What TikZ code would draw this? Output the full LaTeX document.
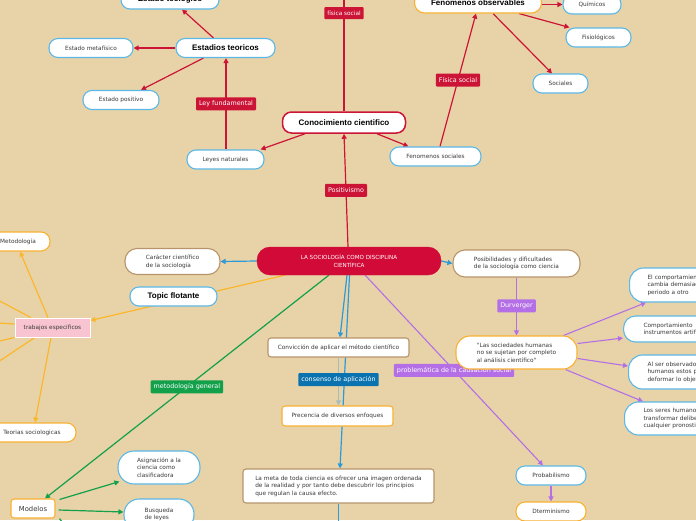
\documentclass[tikz,border=0pt]{standalone}
\usepackage{fontspec}
\setmainfont{Liberation Sans}
\newfontfamily\dv{DejaVu Sans}
\usetikzlibrary{arrows.meta,calc}
\definecolor{bgc}{HTML}{E8D3A8}
\definecolor{redc}{HTML}{CC1436}
\definecolor{mainred}{HTML}{D20A37}
\definecolor{bbc}{HTML}{5CB8E6}
\definecolor{blc}{HTML}{2C9AD8}
\definecolor{orc}{HTML}{F8B133}
\definecolor{brc}{HTML}{B8946A}
\definecolor{grc}{HTML}{12A04A}
\definecolor{puc}{HTML}{B46FE6}
\definecolor{blab}{HTML}{0A72AE}
\definecolor{pkc}{HTML}{F8C4D2}
\definecolor{gyc}{HTML}{A9BCBC}
\definecolor{txc}{HTML}{3A3A3A}
\definecolor{yec}{HTML}{FBB72B}
\pgfdeclarelayer{bglayer}
\pgfdeclarelayer{edgelayer}
\pgfsetlayers{bglayer,edgelayer,main}
\tikzset{
  box/.style={draw, line width=1.1pt, fill=white, text=txc, font=\dv\fontsize{5.8}{7.6}\selectfont, inner sep=1pt, align=center},
  pill/.style={box, rounded corners=9pt},
  sq/.style={box, rounded corners=3pt},
  ttl/.style={font=\bfseries\fontsize{8}{9.6}\selectfont, text=black},
  bb/.style={draw=bbc},
  ob/.style={draw=orc},
  brb/.style={draw=brc},
  rnode/.style={pill, bb, rounded corners=14pt, align=left, anchor=west, text width=110pt, minimum height=#1},
  lbl/.style={fill=#1, text=white, font=\dv\fontsize{6.4}{7.6}\selectfont, inner xsep=3pt, inner ysep=1pt, minimum height=13pt, rounded corners=1pt},
  tip/.style={-{Triangle[length=5pt,width=5pt]}},
  rl/.style={draw=redc, line width=1.2pt},
  bl/.style={draw=blc, line width=1.2pt},
  gl/.style={draw=grc, line width=1.2pt},
  pl/.style={draw=puc, line width=1.1pt},
  yl/.style={draw=yec, line width=1.2pt},
}
\begin{document}
\begin{tikzpicture}[x=1pt,y=-1pt]
\begin{pgfonlayer}{bglayer}
\fill[bgc] (0,0) rectangle (696,520);
\end{pgfonlayer}
\useasboundingbox (0,0) rectangle (696,520);

% top red group
\node[pill,bb,ttl,minimum width=98pt,minimum height=19pt] (teol) at (170,-0.5) {Estado teologico};
\node[pill,bb,ttl,minimum width=99pt,minimum height=19pt] (teor) at (225.5,48) {Estadios teoricos};
\node[pill,bb,minimum width=84pt,minimum height=19pt] (metaf) at (91,48) {Estado metafísico};
\node[pill,bb,minimum width=76pt,minimum height=19pt] (posit) at (121,100) {Estado positivo};
\node[pill,bb,minimum width=77pt,minimum height=19pt] (leyes) at (225.5,159.5) {Leyes naturales};
\node[pill,draw=redc,line width=1.5pt,ttl,minimum width=123pt,minimum height=21pt] (conoc) at (344,122.5) {Conocimiento cientifico};
\node[pill,bb,minimum width=91pt,minimum height=19pt] (fensoc) at (435.5,156.5) {Fenomenos sociales};
\node[pill,ob,ttl,minimum width=127pt,minimum height=21pt,rounded corners=10pt] (fenobs) at (478,2.5) {Fenomenos observables};
\node[pill,bb,minimum width=58pt,minimum height=19pt] (quim) at (592,4.5) {Químicos};
\node[pill,bb,minimum width=65pt,minimum height=19pt] (fisio) at (598.5,37.5) {Fisiológicos};
\node[pill,bb,minimum width=55pt,minimum height=19pt] (socs) at (560.5,83.5) {Sociales};
\coordinate (fsup) at (344,-25);

% centre
\node[fill=mainred,draw=mainred,rounded corners=13pt,minimum width=184pt,minimum height=28pt,text=white,font=\dv\fontsize{5.6}{7.4}\selectfont,align=center] (main) at (349,261) {LA SOCIOLOGÍA COMO DISCIPLINA\\CIENTÍFICA};
\node[pill,brb,rounded corners=12pt,align=left,minimum width=95pt,minimum height=26pt] (carac) at (172.5,261.5) {Carácter científico\\de la sociología};
\node[pill,bb,ttl,minimum width=87pt,minimum height=19pt] (topic) at (173.5,296.5) {Topic flotante};
\node[pill,brb,rounded corners=12pt,align=left,minimum width=127pt,minimum height=27pt] (posib) at (516.5,263.5) {Posibilidades y dificultades\\de la sociología como ciencia};
\node[sq,brb,minimum width=141pt,minimum height=19pt] (conv) at (338.5,347.5) {Convicción de aplicar el método científico};
\node[sq,ob,minimum width=111pt,minimum height=20pt] (prec) at (337.5,416) {Precencia de diversos enfoques};
\node[sq,brb,align=left,minimum width=191pt,minimum height=34pt] (meta) at (338.5,486) {La meta de toda ciencia es ofrecer una imagen ordenada\\de la realidad y por tanto debe descubrir los principios\\que regulan la causa efecto.};
\coordinate (metadown) at (338.5,540);

% left
\node[pill,ob,minimum width=64pt,minimum height=19pt] (metod) at (18,241.5) {Metodología};
\node[box,fill=pkc,draw=white,line width=0.8pt,minimum width=75pt,minimum height=19pt] (trab) at (52.5,327.5) {trabajos especificos};
\node[pill,ob,minimum width=88pt,minimum height=19pt] (teorias) at (32,432.5) {Teorias sociologicas};
\node[sq,ob,font=\dv\fontsize{6.8}{8}\selectfont,minimum width=44pt,minimum height=19pt] (model) at (33,508.5) {Modelos};
\node[pill,bb,rounded corners=16pt,align=left,minimum width=82pt,minimum height=33pt] (asign) at (159,467.5) {Asignación a la\\ciencia como\\clasificadora};
\node[pill,bb,rounded corners=15pt,align=left,minimum width=70pt,minimum height=31pt] (busq) at (159,514.5) {Busqueda\\de leyes};
\coordinate (L1) at (-20,290.5);
\coordinate (L2) at (-20,322);
\coordinate (L3) at (-20,346);
\coordinate (L4) at (-20,374);
\coordinate (modoff) at (75,540);

% right
\node[pill,ob,rounded corners=14pt,align=left,minimum width=121pt,minimum height=33pt] (soc) at (516.5,352.5) {"Las sociedades humanas\\no se sujetan por completo\\al análisis científico"};
\node[rnode=34pt,inner xsep=18pt] (r1) at (629,285) {El comportamiento\\cambia demasiado\\periodo a otro};
\node[rnode=26pt,inner xsep=20pt,rounded corners=12pt] (r2) at (623,329) {Comportamiento\\instrumentos artificiales};
\node[rnode=34pt,inner xsep=19pt] (r3) at (628,372) {Al ser observados\\humanos estos pueden\\deformar lo objeto};
\node[rnode=33pt,inner xsep=19pt] (r4) at (624,418.5) {Los seres humanos\\transformar deliberadamente\\cualquier pronostico};
\node[pill,bb,minimum width=70pt,minimum height=19pt] (probab) at (551,475.5) {Probabilismo};
\node[pill,ob,minimum width=70pt,minimum height=19pt] (determ) at (551,511.5) {Dterminismo};

\begin{pgfonlayer}{edgelayer}
% red
\draw[rl,tip] ([xshift=-12pt]teor.north) -- ([xshift=12pt]teol.south);
\draw[rl,tip] (teor.west) -- (metaf.east);
\draw[rl,tip] ([xshift=-22pt]teor.south) -- ([xshift=20pt]posit.north);
\draw[rl,tip] ([xshift=0.5pt]leyes.north) -- node[lbl=redc]{Ley fundamental} ([xshift=0.5pt]teor.south);
\draw[rl,tip] ([xshift=-39pt]conoc.south) -- ([xshift=-4pt]leyes.north east);
\draw[rl] (conoc.north) -- node[pos=0.72,lbl=redc,font=\dv\fontsize{5.8}{7}\selectfont,minimum height=12pt]{física social} (fsup);
\draw[rl,tip] ([xshift=33pt]conoc.south) -- ([xshift=-27pt]fensoc.north);
\draw[rl,tip] ([xshift=4.5pt]fensoc.north) -- node[lbl=redc]{Física social} ([xshift=-2pt]fenobs.south);
\draw[rl,tip] ([yshift=-2pt]fenobs.east) -- (quim.west);
\draw[rl,tip] ([xshift=41pt]fenobs.south) -- ([xshift=4pt]fisio.north west);
\draw[rl,tip] ([xshift=15pt]fenobs.south) -- ([xshift=-8.5pt]socs.north);
\draw[rl,tip] ([xshift=-1pt]main.north) -- node[lbl=redc]{Positivismo} (conoc.south);
% blue
\draw[bl,tip] (main.west) -- (carac.east);
\draw[bl,tip] (main.east) -- (posib.west);
\draw[bl,tip] ([xshift=-2pt]main.south) -- ([xshift=1.5pt]conv.north);
\draw[bl,tip] ([xshift=0.5pt]main.south) -- ([xshift=1.5pt]meta.north);
\draw[draw=gyc,line width=1.2pt,tip] (conv.south) -- node[pos=0.46,lbl=blab]{consenso de aplicación} ([xshift=1pt]prec.north);
\draw[bl] (meta.south) -- (metadown);
% yellow
\draw[yl,tip] ([xshift=28pt]main.south west) -- ([yshift=7pt]trab.east);
\draw[yl,tip] ([xshift=-4.5pt]trab.north) -- ([xshift=2pt]metod.south);
\draw[yl,tip] ([xshift=-1.5pt]trab.south) -- ([xshift=3pt]teorias.north);
\draw[yl] ([xshift=-21.5pt]trab.north) -- (L1);
\draw[yl] ([yshift=3.5pt]trab.west) -- (L2);
\draw[yl] (trab.south west) -- (L3);
\draw[yl] ([xshift=-17.5pt]trab.south) -- (L4);
% green
\draw[gl,tip] ([xshift=72pt]main.south west) -- node[pos=0.5,lbl=grc]{metodología general} ([xshift=12pt]model.north);
\draw[gl,tip] ([xshift=4pt,yshift=-1pt]model.north east) -- ([xshift=2pt,yshift=3pt]asign.south west);
\draw[gl,tip] ([xshift=3pt,yshift=-1.5pt]model.east) -- ([yshift=2.5pt]busq.west);
\draw[gl] ([xshift=4pt]model.south east) -- (modoff);
% purple
\draw[pl,tip] (posib.south) -- node[pos=0.49,lbl=puc]{Durverger} (soc.north);
\draw[pl,tip] ([xshift=-76pt]main.south east) -- node[pos=0.5,lbl=puc]{problemática de la causación social} ([xshift=-8pt]probab.north);
\draw[pl,tip] ([xshift=-14pt]soc.north east) -- ([xshift=17pt]r1.south west);
\draw[pl,tip] ([yshift=9pt]soc.east) -- ([yshift=-9pt]r2.west);
\draw[pl,tip] ([yshift=-6pt]soc.east) -- ([yshift=6pt]r3.west);
\draw[pl,tip] ([xshift=-12pt]soc.south east) -- ([xshift=19pt]r4.north west);
\draw[pl,tip] (probab.south) -- (determ.north);
\end{pgfonlayer}
\end{tikzpicture}
\end{document}
